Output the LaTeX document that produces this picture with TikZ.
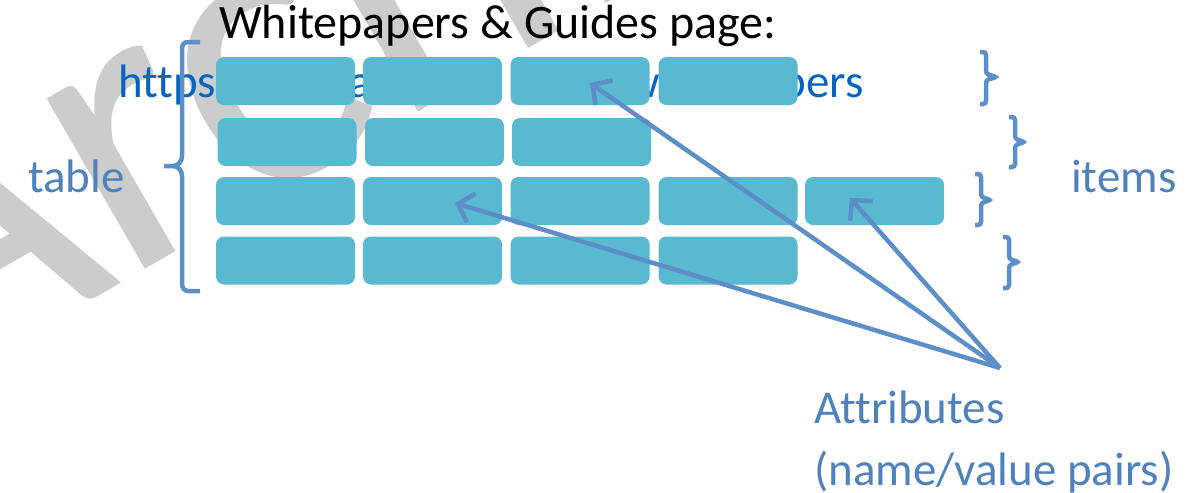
\documentclass[tikz,border=0pt]{standalone}
\usepackage{fontspec}
\setmainfont{Carlito}[Ligatures=NoCommon]
\usetikzlibrary{arrows.meta}
\definecolor{urlblue}{RGB}{5,99,193}
\definecolor{lblue}{RGB}{79,129,189}
\definecolor{bcol}{RGB}{92,142,200}
\definecolor{boxc}{RGB}{88,185,208}
\definecolor{wmgray}{RGB}{204,204,204}
\begin{document}
\begin{tikzpicture}[x=1pt,y=-1pt,
  cell/.style={rectangle,rounded corners=8pt,fill=boxc,minimum width=139pt,minimum height=48pt,inner sep=0pt,outer sep=0pt},
  lbl/.style={inner sep=0pt,anchor=base west,font=\fontsize{47}{56}\selectfont},
  brk/.style={draw=bcol,line width=4.5pt,rounded corners=3pt},
  pointer/.style={draw=bcol,line width=4.5pt,-{Straight Barb[length=14pt,width=30pt,line width=4.5pt]}}]
\useasboundingbox (0,0) rectangle (1195,493);
% watermark
\begin{scope}
\clip (0,0) rectangle (1195,493);
\node[inner sep=0pt,anchor=base west,rotate=30,text=wmgray,font=\fontsize{412}{480}\selectfont] (wm) at (-84,402) {Archive};
\end{scope}
% title and url
\node[lbl,font=\fontsize{48}{56}\selectfont] (title) at (219,38) {Whitepapers \& Guides page:};
\node[lbl,text=urlblue] (url1) at (118,97) {https://aws.amazon};
\node[lbl,text=urlblue,anchor=base east] (url2) at (864,97) {.com/whitepapers};
\node[lbl,text=lblue] (table) at (28,192) {table};
\node[lbl,text=lblue] (items) at (1071,192) {items};
\node[lbl,text=lblue] (attr1) at (814,423) {Attributes};
\node[lbl,text=lblue] (attr2) at (814,485) {(name/value pairs)};
% row 1
\node[cell] (r1c1) at (285.5,81) {};
\node[cell] (r1c2) at (432.5,81) {};
\node[cell] (r1c3) at (580,81) {};
\node[cell] (r1c4) at (728,81) {};
% row 2
\node[cell] (r2c1) at (287,142) {};
\node[cell] (r2c2) at (434.5,142) {};
\node[cell] (r2c3) at (581.5,142) {};
% row 3
\node[cell] (r3c1) at (285.5,201) {};
\node[cell] (r3c2) at (432.5,201) {};
\node[cell] (r3c3) at (580,201) {};
\node[cell] (r3c4) at (728,201) {};
\node[cell] (r3c5) at (874.5,201) {};
% row 4
\node[cell] (r4c1) at (285.5,260.5) {};
\node[cell] (r4c2) at (432.5,260.5) {};
\node[cell] (r4c3) at (580,260.5) {};
\node[cell] (r4c4) at (728,260.5) {};
% left bracket
\draw[draw=bcol,line width=4.5pt] (200,42) -- (188,42) to[out=180,in=90] (182,48) -- (182,156) to[out=-90,in=0] (173,166) -- (164,166);
\draw[draw=bcol,line width=4.5pt] (173,166) to[out=0,in=90] (182,176) -- (182,284) to[out=-90,in=180] (188,291) -- (200,291);
% right braces
\draw[brk] (980,52) -- (986,52) -- (986,74) -- (997,77) -- (986,80) -- (986,104) -- (980,104);
\draw[brk] (1009,117) -- (1015,117) -- (1015,139) -- (1025,142) -- (1015,145) -- (1015,167) -- (1009,167);
\draw[brk] (975,174) -- (981,174) -- (981,197) -- (991,200) -- (981,203) -- (981,225) -- (975,225);
\draw[brk] (1003,237) -- (1009,237) -- (1009,259) -- (1019,262) -- (1009,265) -- (1009,288) -- (1003,288);
% arrows
\coordinate (src) at (1000,368);
\coordinate (t1) at (590,83);
\coordinate (t2) at (455,203);
\coordinate (t3) at (850,198);
\draw[pointer] (src) -- (t1);
\draw[pointer] (src) -- (t2);
\draw[pointer] (src) -- (t3);
\end{tikzpicture}
\end{document}
